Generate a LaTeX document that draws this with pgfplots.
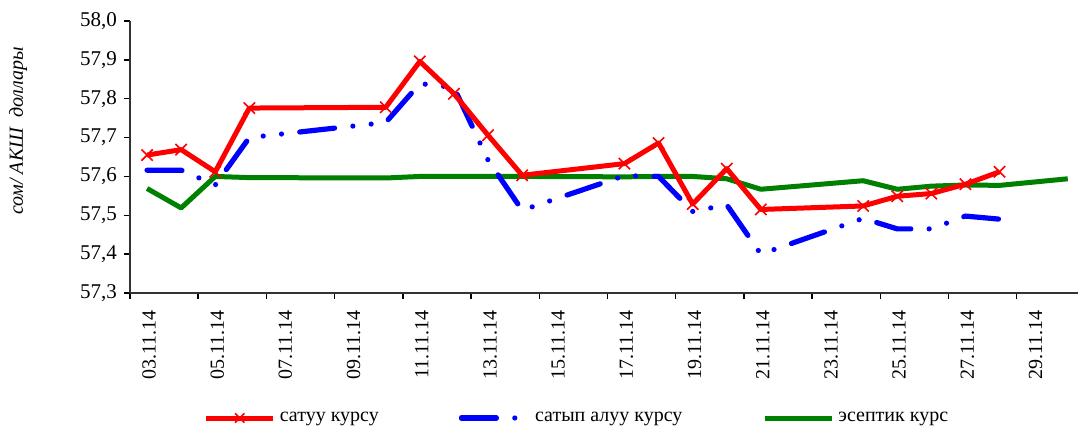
\documentclass[border=0pt]{standalone}
\usepackage{fontspec}
\setmainfont{Liberation Serif}
\usepackage{pgfplots}
\pgfplotsset{compat=1.18}
\definecolor{xlgreen}{RGB}{0,128,0}

\begin{document}
\begin{tikzpicture}
\begin{axis}[
    name=ax,
    scale only axis,
    width=474pt, height=136pt,
    xmin=2.5, xmax=30.3,
    ymin=57.3, ymax=58.0,
    axis lines*=left,
    axis line style={black!80, line width=0.7pt},
    tick style={black, line width=0.7pt},
    tick align=outside,
    major tick length=3pt,
    xtick={2.5,4.5,...,28.5},
    xticklabels={},
    extra x ticks={3,5,...,29},
    extra x tick labels={03.11.14,05.11.14,07.11.14,09.11.14,11.11.14,13.11.14,15.11.14,17.11.14,19.11.14,21.11.14,23.11.14,25.11.14,27.11.14,29.11.14},
    extra x tick style={major tick length=0pt},
    xticklabel style={rotate=90, anchor=east, font=\fontsize{10}{12}\selectfont, yshift=-1pt, xshift=-5pt},
    ytick={57.3,57.4,57.5,57.6,57.7,57.8,57.9,58.0},
    yticklabel style={font=\fontsize{10.5}{12}\selectfont,
        /pgf/number format/.cd, fixed, fixed zerofill, precision=1, use comma, assume math mode=true},
    ylabel={сом/ АКШ \ доллары},
    ylabel style={font=\itshape\fontsize{10}{12}\selectfont,
        at={(axis description cs:-0.1181,0.596)}, anchor=center},
    legend style={at={(0.4726,-0.4596)}, anchor=center, draw=none,
        font=\fontsize{10}{12}\selectfont,
        /tikz/every even column/.append style={column sep=38pt}},
    legend columns=3,
    legend cell align=left,
    legend image code/.code={\draw[mark repeat=2, mark phase=2, #1] plot coordinates {(0pt,0pt) (16.75pt,0pt) (33.5pt,0pt)};},
]

% эсептик курс
\addplot[xlgreen, line width=2.5pt, line join=round, forget plot] coordinates {
    (3,57.569) (4,57.519) (5,57.600) (6,57.597) (10,57.596) (11,57.600)
    (12,57.600) (13,57.600) (14,57.600) (17,57.599) (18,57.600) (19,57.600)
    (20,57.594) (21,57.567) (24,57.589) (25,57.567) (26,57.575) (27,57.578)
    (28,57.577) (30,57.594)
};

% сатып алуу курсу
\addplot[blue, line width=2.6pt, line cap=round, line join=round,
    dash pattern=on 17.5pt off 9.2pt on 0pt off 9.2pt on 0pt off 9.2pt, forget plot] coordinates {
    (3,57.616) (4,57.616) (5,57.578) (6,57.700) (10,57.739) (11,57.839)
    (12,57.829) (13,57.642) (14,57.513) (17,57.602) (18,57.600) (19,57.510)
    (20,57.527) (21,57.400) (24,57.492) (25,57.465) (26,57.465) (27,57.498)
    (28,57.490)
};

% сатуу курсу
\addplot[red, line width=2.5pt, line join=round, mark=x, mark size=4pt,
    mark options={line width=0.8pt, solid}, forget plot] coordinates {
    (3,57.655) (4,57.669) (5,57.612) (6,57.776) (10,57.778) (11,57.896)
    (12,57.813) (13,57.706) (14,57.603) (17,57.633) (18,57.686) (19,57.529)
    (20,57.620) (21,57.515) (24,57.524) (25,57.549) (26,57.556) (27,57.580)
    (28,57.612)
};

\addlegendimage{red, line width=2.5pt, mark=x, mark size=3.3pt, mark options={line width=0.8pt, solid}}
\addlegendentry{сатуу курсу}
\addlegendimage{blue, line width=2.6pt, line cap=round, dash pattern=on 17.5pt off 9.2pt on 0pt off 9.2pt on 0pt off 9.2pt}
\addlegendentry{сатып алуу курсу}
\addlegendimage{xlgreen, line width=2.5pt}
\addlegendentry{эсептик курс}

\end{axis}
\pgfresetboundingbox
\useasboundingbox (-65pt,-68.5pt) rectangle (474pt,146.5pt);
\end{tikzpicture}
\end{document}
